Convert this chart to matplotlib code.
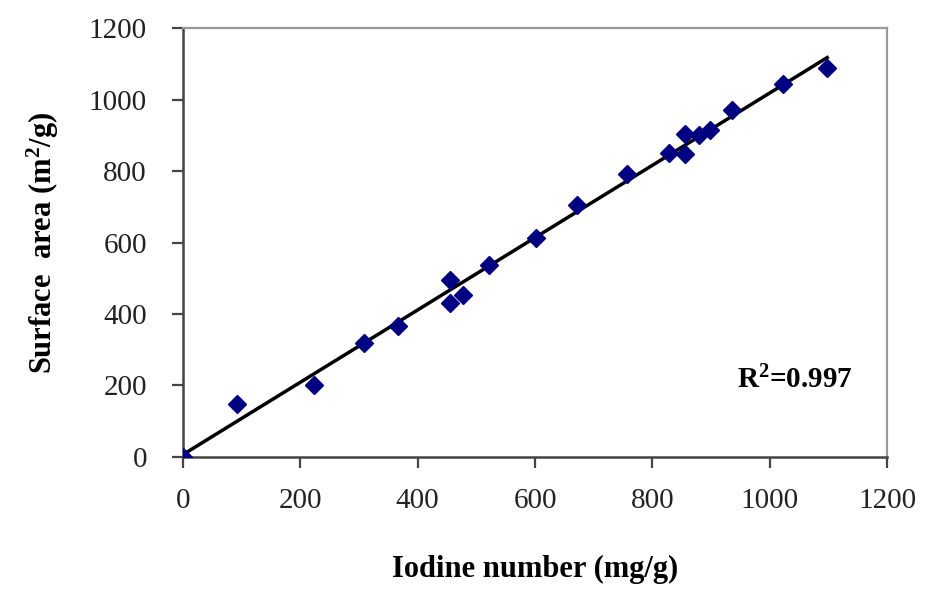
import matplotlib.pyplot as plt
import numpy as np

# iodine number vs surface area
iodine = [0, 92, 223, 308, 366, 455, 455, 478, 522, 601, 672, 757,
          829, 855, 855, 879, 899, 935, 1022, 1098]
surface = [0, 148, 201, 319, 366, 495, 431, 453, 538, 612, 705, 792,
           849, 903, 847, 901, 915, 970, 1044, 1088]
ticks = [0, 200, 400, 600, 800, 1000, 1200]

plt.rcParams['font.family'] = ['Liberation Serif', 'DejaVu Serif']
plt.rcParams['mathtext.fontset'] = 'custom'
plt.rcParams['mathtext.rm'] = 'Liberation Serif'
plt.rcParams['mathtext.bf'] = 'Liberation Serif:bold'

fig = plt.figure(figsize=(9.27, 6.08), dpi=100)
ax = fig.add_axes([0.1974, 0.2484, 0.7595, 0.7055])

# linear trend line through the points
k, b = np.polyfit(iodine, surface, 1)
xs = np.array([0, max(iodine)])
ax.plot(xs, k * xs + b, color='black', lw=2.5, zorder=2)
ax.plot(iodine, surface, 'D', color='#000080', ms=9.5, mec='#000080', zorder=3)

ax.set_xlim(0, 1200)
ax.set_ylim(0, 1200)
ax.set_xticks(ticks)
ax.set_yticks(ticks)
ax.tick_params(axis='both', direction='out', length=8, width=1.6,
               color='#444444', labelsize=21, labelcolor='#222222')
ax.tick_params(axis='x', pad=14)
ax.tick_params(axis='y', pad=18)

for s in ['left', 'bottom']:
    ax.spines[s].set_color('#444444')
    ax.spines[s].set_linewidth(1.8)
for s in ['top', 'right']:
    ax.spines[s].set_color('#999999')
    ax.spines[s].set_linewidth(1.6)

ax.set_xlabel('Iodine number (mg/g)', fontsize=22, fontweight='bold', labelpad=30)
ax.set_ylabel('Surface  area (m$\\mathbf{^2}$/g)', fontsize=22, fontweight='bold', labelpad=20)

ax.text(945, 215, 'R$\\mathbf{^2}$=0.997', fontsize=21, fontweight='bold', va='center')

fig.savefig('out.png', dpi=100)
